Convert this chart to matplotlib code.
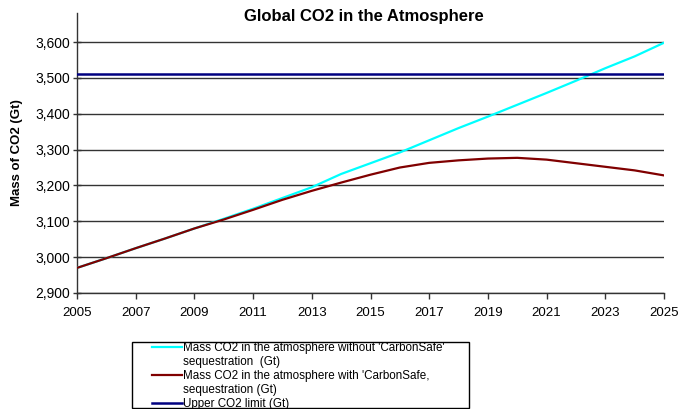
import matplotlib
matplotlib.use("Agg")
import matplotlib.pyplot as plt
from matplotlib.ticker import FuncFormatter, MultipleLocator
from matplotlib.patches import Rectangle
from matplotlib.lines import Line2D

years = list(range(2005, 2026))
without_cs = [2970, 2997, 3025, 3052, 3080, 3107, 3135, 3165, 3195, 3232, 3262,
              3292, 3326, 3360, 3392, 3425, 3458, 3492, 3527, 3560, 3598]
with_cs = [2970, 2997, 3025, 3052, 3080, 3105, 3132, 3160, 3185, 3208, 3230,
           3250, 3263, 3270, 3275, 3277, 3272, 3262, 3252, 3242, 3228]
upper_limit = [3510] * len(years)
xticks = list(range(2005, 2026, 2))

label_lines = [["Mass CO2 in the atmosphere without 'CarbonSafe'", "sequestration  (Gt)"],
               ["Mass CO2 in the atmosphere with 'CarbonSafe,", "sequestration (Gt)"],
               ["Upper CO2 limit (Gt)"]]

plt.rcParams['font.family'] = ['Liberation Sans', 'DejaVu Sans']

W, H = 678, 409
fig = plt.figure(figsize=(6.78, 4.09), dpi=100)
ax = fig.add_axes([77/W, 1-293/H, (664-77)/W, (293-13)/H])

for v in range(2900, 3700, 100):
    ax.axhline(v, color='#333333', lw=1.0, zorder=1)

l1, = ax.plot(years, without_cs, color='#00FFFF', lw=1.6, zorder=3)
l2, = ax.plot(years, with_cs, color='#800000', lw=1.6, zorder=4)
l3, = ax.plot(years, upper_limit, color='#000080', lw=1.8, zorder=5)

ax.set_xlim(2005, 2025)
ax.set_ylim(2900, 3681)
ax.set_xticks(xticks)
ax.set_xticklabels([str(y) for y in xticks])
ax.yaxis.set_major_locator(MultipleLocator(100))
ax.yaxis.set_major_formatter(FuncFormatter(lambda v, p: f"{int(v):,}" if v <= 3600 else ""))
ax.tick_params(axis='x', labelsize=9.5, length=4, width=1, color='#333333', direction='out', pad=6)
ax.tick_params(axis='y', labelsize=10, length=6, width=1, color='#333333', direction='inout', pad=2)
for s in ['top', 'right']:
    ax.spines[s].set_visible(False)
for s in ['left', 'bottom']:
    ax.spines[s].set_color('#333333')
    ax.spines[s].set_linewidth(1.0)

fig.text(364/W, 1-17/H, "Global CO2 in the Atmosphere", ha='center', va='center',
         fontsize=12, fontweight='bold')
fig.text(17/W, 1-153/H, "Mass of CO2 (Gt)", rotation=90, ha='center', va='center',
         fontsize=9.5, fontweight='bold')

# legend frame
fig.patches.append(Rectangle((132/W, 1-408/H), (469-132)/W, (408-342)/H,
                             transform=fig.transFigure, fill=False,
                             edgecolor='black', lw=1.0))
handles, texts = [], []
for line, parts in zip([l1, l2, l3], label_lines):
    handles.append(line)
    texts.append(parts[0])
    for extra in parts[1:]:
        handles.append(Line2D([], [], color='none'))
        texts.append(extra)
leg = fig.legend(handles, texts, loc='upper left',
                 bbox_to_anchor=(152/W, 1-342/H),
                 fontsize=8.4, frameon=False,
                 handlelength=2.6, handletextpad=0.05, borderpad=0.0, labelspacing=0.18,
                 borderaxespad=0)

fig.savefig("out.png", dpi=100)
